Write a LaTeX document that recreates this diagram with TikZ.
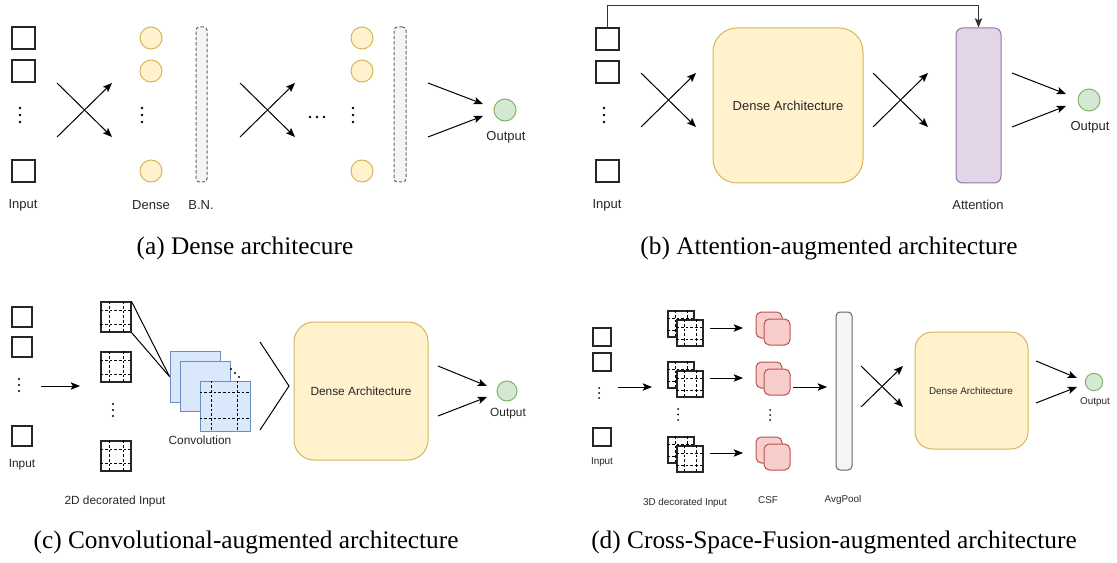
\documentclass[tikz,border=0pt]{standalone}
\usepackage{fontspec}
\setsansfont{Liberation Sans}
\newfontfamily\capfont{Liberation Serif}
\usetikzlibrary{arrows.meta,fit,calc}
\definecolor{yfill}{HTML}{FFF2CC}
\definecolor{ystroke}{HTML}{D6B656}
\definecolor{gfill}{HTML}{D5E8D4}
\definecolor{gstroke}{HTML}{82B366}
\definecolor{bnfill}{HTML}{F5F5F5}
\definecolor{bnstroke}{HTML}{666666}
\definecolor{pfill}{HTML}{E1D5E7}
\definecolor{pstroke}{HTML}{9673A6}
\definecolor{bfill}{HTML}{DAE8FC}
\definecolor{bstroke}{HTML}{6C8EBF}
\definecolor{rfill}{HTML}{F8CECC}
\definecolor{rstroke}{HTML}{B85450}
\newcommand{\gridsq}[6]{%
  \node[#6, fit={(#2,#3)(#4,#5)}] (#1) {};
  \draw[gridln] ($(#1.north west)!0.3!(#1.north east)$) -- ($(#1.south west)!0.3!(#1.south east)$);
  \draw[gridln] ($(#1.north west)!0.75!(#1.north east)$) -- ($(#1.south west)!0.75!(#1.south east)$);
  \draw[gridln] ($(#1.north west)!0.28!(#1.south west)$) -- ($(#1.north east)!0.28!(#1.south east)$);
  \draw[gridln] ($(#1.north west)!0.75!(#1.south west)$) -- ($(#1.north east)!0.75!(#1.south east)$);
}
\begin{document}
\begin{tikzpicture}[x=0.75pt,y=-0.75pt,
  sq/.style={draw=black!85, fill=white, line width=0.9pt, inner sep=0pt, outer sep=0pt},
  lab/.style={font=\sffamily\fontsize{9.75}{11}\selectfont, inner sep=0pt, text=black!85},
  labc/.style={font=\sffamily\fontsize{8.9}{10}\selectfont, inner sep=0pt, text=black!85},
  labd/.style={font=\sffamily\fontsize{7.4}{9}\selectfont, inner sep=0pt, text=black!85},
  captxt/.style={font=\capfont\fontsize{19}{22}\selectfont, inner sep=0pt},
  arr/.style={-{Stealth[length=7pt,width=5.6pt,inset=1.6pt]}, line width=0.75pt},
  ln/.style={line width=0.75pt},
  dcirc/.style={circle, draw=ystroke, fill=yfill, line width=0.75pt, minimum size=16.5pt, inner sep=0pt},
  ocirc/.style={circle, draw=gstroke, fill=gfill, line width=0.75pt, inner sep=0pt},
  bnbox/.style={draw=bnstroke, fill=bnfill, dash pattern=on 2.5pt off 1.5pt, rounded corners=2.5pt, line width=0.75pt, inner sep=0pt},
  dabox/.style={draw=ystroke, fill=yfill, line width=0.75pt, inner sep=0pt},
  attbox/.style={draw=pstroke, fill=pfill, rounded corners=5pt, line width=0.75pt, inner sep=0pt},
  convsq/.style={draw=bstroke, fill=bfill, line width=0.75pt, inner sep=0pt},
  csfsq/.style={draw=rstroke, fill=rfill, rounded corners=4pt, line width=0.75pt, inner sep=0pt},
  avgbox/.style={draw=bnstroke, fill=bnfill, rounded corners=3pt, line width=0.75pt, inner sep=0pt},
  gridln/.style={line width=0.6pt, dash pattern=on 2pt off 1.5pt},
  dsq/.style={draw=black!85, fill=white, line width=0.8pt, inner sep=0pt}
]
\useasboundingbox (0,0) rectangle (1117,563);

%%%%%%%%%%%%%%%% (a)
\node[sq, fit={(12,27)(35,49)}] (ai1) {};
\node[sq, fit={(12,60)(35,82)}] (ai2) {};
\node[sq, fit={(12,160)(35,182)}] (ai3) {};
\foreach \y in {108,115,122} \fill (20,\y) circle (1pt);
\node[lab] (ailab) at (23,205) {Input};
\coordinate (ax1a) at (57,83); \coordinate (ax1b) at (112,137);
\coordinate (ax2a) at (57,137); \coordinate (ax2b) at (112,83);
\draw[arr] (ax1a) -- (ax1b);
\draw[arr] (ax2a) -- (ax2b);
\node[dcirc] (ad1) at (151,38) {};
\node[dcirc] (ad2) at (151,71) {};
\node[dcirc] (ad3) at (151,171) {};
\foreach \y in {108,115,122} \fill (142,\y) circle (1pt);
\node[lab] (adlab) at (151,205) {Dense};
\node[bnbox, fit={(196,27)(207,182)}] (abn1) {};
\node[lab] (abnlab) at (201,205) {B.N.};
\coordinate (ay1a) at (240,83); \coordinate (ay1b) at (295,137);
\coordinate (ay2a) at (240,137); \coordinate (ay2b) at (295,83);
\draw[arr] (ay1a) -- (ay1b);
\draw[arr] (ay2a) -- (ay2b);
\foreach \x in {310,317,324} \fill (\x,117) circle (1pt);
\node[dcirc] (ae1) at (362,38) {};
\node[dcirc] (ae2) at (362,71) {};
\node[dcirc] (ae3) at (362,171) {};
\foreach \y in {108,115,122} \fill (353,\y) circle (1pt);
\node[bnbox, fit={(394,27)(406,182)}] (abn2) {};
\coordinate (ao1a) at (428,83); \coordinate (ao2a) at (428,137);
\coordinate (ao1b) at (483,104); \coordinate (ao2b) at (483,116);
\node[ocirc, minimum size=16.5pt] (aout) at (505,110) {};
\draw[arr] (ao1a) -- (ao1b);
\draw[arr] (ao2a) -- (ao2b);
\node[lab] (aoutlab) at (506,137) {Output};
\node[captxt] (capa) at (245,248) {(a) Dense architecure};

%%%%%%%%%%%%%%%% (b)
\node[sq, fit={(596,28)(619,50)}] (bi1) {};
\node[sq, fit={(596,61)(619,83)}] (bi2) {};
\node[sq, fit={(596,160)(619,182)}] (bi3) {};
\foreach \y in {108,115,122} \fill (604,\y) circle (1pt);
\node[lab] (bilab) at (607,205) {Input};
\coordinate (bx1a) at (641,73); \coordinate (bx1b) at (696,127);
\coordinate (bx2a) at (641,127); \coordinate (bx2b) at (696,73);
\draw[arr] (bx1a) -- (bx1b);
\draw[arr] (bx2a) -- (bx2b);
\node[dabox, rounded corners=18pt, fit={(713,28)(863,183)}] (bda) {};
\node[lab] (bdalab) at (788,106) {Dense Architecture};
\coordinate (by1a) at (873,73); \coordinate (by1b) at (928,127);
\coordinate (by2a) at (873,127); \coordinate (by2b) at (928,73);
\draw[arr] (by1a) -- (by1b);
\draw[arr] (by2a) -- (by2b);
\node[attbox, fit={(956,28)(1001,183)}] (batt) {};
\node[lab] (battlab) at (978,205) {Attention};
\coordinate (btop) at (0,6);
\draw[arr, draw=black!80] (bi1.north) -- (bi1.north |- btop) -| (batt.north);
\coordinate (bo1a) at (1012,73); \coordinate (bo2a) at (1012,127);
\coordinate (bo1b) at (1066,94); \coordinate (bo2b) at (1066,106);
\node[ocirc, minimum size=16.5pt] (bout) at (1089,100) {};
\draw[arr] (bo1a) -- (bo1b);
\draw[arr] (bo2a) -- (bo2b);
\node[lab] (boutlab) at (1090,127) {Output};
\node[captxt] (capb) at (829,248) {(b) Attention-augmented architecture};

%%%%%%%%%%%%%%%% (c)
\node[sq, fit={(12,307)(32,327)}] (ci1) {};
\node[sq, fit={(12,337)(32,357)}] (ci2) {};
\node[sq, fit={(12,426)(32,446)}] (ci3) {};
\foreach \y in {379,385,391} \fill (19,\y) circle (0.9pt);
\node[labc] (cilab) at (22,465) {Input};
\coordinate (cia) at (41,386); \coordinate (cib) at (80,386);
\draw[arr] (cia) -- (cib);
\gridsq{cd1}{101}{302}{131}{332}{dsq}
\gridsq{cd2}{101}{352}{131}{382}{dsq}
\gridsq{cd3}{101}{441}{131}{471}{dsq}
\foreach \y in {404,410,416} \fill (113,\y) circle (0.9pt);
\node[convsq, fit={(170,351)(220,402)}] (cv1) {};
\node[convsq, fit={(180,361)(230,411)}] (cv2) {};
\foreach \p in {(231,369),(235,373),(239,377)} \fill \p circle (0.8pt);
\node[convsq, fit={(200,381)(250,431)}] (cv3) {};
\draw[gridln] ($(cv3.north west)!0.24!(cv3.north east)$) -- ($(cv3.south west)!0.24!(cv3.south east)$);
\draw[gridln] ($(cv3.north west)!0.74!(cv3.north east)$) -- ($(cv3.south west)!0.74!(cv3.south east)$);
\draw[gridln] ($(cv3.north west)!0.24!(cv3.south west)$) -- ($(cv3.north east)!0.24!(cv3.south east)$);
\draw[gridln] ($(cv3.north west)!0.74!(cv3.south west)$) -- ($(cv3.north east)!0.74!(cv3.south east)$);
\draw[ln] (cd1.north east) -- (cv1.west);
\draw[ln] (cd1.south east) -- (cv1.west);
\node[labc] (cvlab) at (200,440) {Convolution};
\node[labc] (cdlab) at (115,501) {2D decorated Input};
\coordinate (cg1) at (260,342); \coordinate (cgv) at (289,386); \coordinate (cg2) at (260,430);
\draw[ln] (cg1) -- (cgv) -- (cg2);
\node[dabox, rounded corners=15pt, fit={(294,322)(428,460)}] (cda) {};
\node[labc] (cdalab) at (361,391) {Dense Architecture};
\coordinate (co1a) at (438,366); \coordinate (co2a) at (438,416);
\coordinate (co1b) at (487,386); \coordinate (co2b) at (487,397);
\node[ocirc, minimum size=15pt] (cout) at (507,391) {};
\draw[arr] (co1a) -- (co1b);
\draw[arr] (co2a) -- (co2b);
\node[labc] (coutlab) at (508,414) {Output};
\node[captxt] (capc) at (246,542) {(c) Convolutional-augmented architecture};

%%%%%%%%%%%%%%%% (d)
\node[sq, line width=0.8pt, fit={(593,328)(611,346)}] (di1) {};
\node[sq, line width=0.8pt, fit={(593,353)(611,371)}] (di2) {};
\node[sq, line width=0.8pt, fit={(593,428)(611,446)}] (di3) {};
\foreach \y in {388,393,398} \fill (599,\y) circle (0.75pt);
\node[labd] (dilab) at (602,462) {Input};
\coordinate (dia) at (618,387); \coordinate (dib) at (652,387);
\draw[arr] (dia) -- (dib);
\gridsq{ddb1}{668}{311}{694}{337}{dsq}
\gridsq{ddf1}{677}{320}{703}{346}{dsq}
\gridsq{ddb2}{668}{362}{694}{388}{dsq}
\gridsq{ddf2}{677}{371}{703}{397}{dsq}
\gridsq{ddb3}{668}{437}{694}{463}{dsq}
\gridsq{ddf3}{677}{446}{703}{472}{dsq}
\foreach \y in {409,414.5,420} \fill (678,\y) circle (0.75pt);
\node[csfsq, fit={(756,312)(782,338)}] (dcb1) {};
\node[csfsq, fit={(764,319)(790,345)}] (dcf1) {};
\node[csfsq, fit={(756,362)(782,388)}] (dcb2) {};
\node[csfsq, fit={(764,369)(790,395)}] (dcf2) {};
\node[csfsq, fit={(756,437)(782,463)}] (dcb3) {};
\node[csfsq, fit={(764,444)(790,470)}] (dcf3) {};
\foreach \y in {410,415,420} \fill (770,\y) circle (0.75pt);
\coordinate (da1) at (710,328); \coordinate (db1) at (743,328);
\coordinate (da2) at (710,378); \coordinate (db2) at (743,378);
\coordinate (da3) at (710,453); \coordinate (db3) at (743,453);
\draw[arr] (da1) -- (db1);
\draw[arr] (da2) -- (db2);
\draw[arr] (da3) -- (db3);
\node[avgbox, fit={(836,312)(852,470)}] (davg) {};
\coordinate (dca) at (793,387); \coordinate (dcb) at (827,387);
\draw[arr] (dca) -- (dcb);
\coordinate (dx1a) at (861,366); \coordinate (dx1b) at (903,407);
\coordinate (dx2a) at (861,407); \coordinate (dx2b) at (903,366);
\draw[arr] (dx1a) -- (dx1b);
\draw[arr] (dx2a) -- (dx2b);
\node[dabox, rounded corners=13pt, fit={(915,332)(1028,449)}] (dda) {};
\node[labd] (ddalab) at (971,391) {Dense Architecture};
\coordinate (do1a) at (1036,361); \coordinate (do2a) at (1036,403);
\coordinate (do1b) at (1077,378); \coordinate (do2b) at (1077,387);
\node[ocirc, minimum size=13pt] (dout) at (1094,382) {};
\draw[arr] (do1a) -- (do1b);
\draw[arr] (do2a) -- (do2b);
\node[labd] (doutlab) at (1095,402) {Output};
\node[labd] (ddlab) at (685,503) {3D decorated Input};
\node[labd] (dcsflab) at (768,500) {CSF};
\node[labd] (davglab) at (843,500) {AvgPool};
\node[captxt] (capd) at (834,542) {(d) Cross-Space-Fusion-augmented architecture};
\end{tikzpicture}
\end{document}
